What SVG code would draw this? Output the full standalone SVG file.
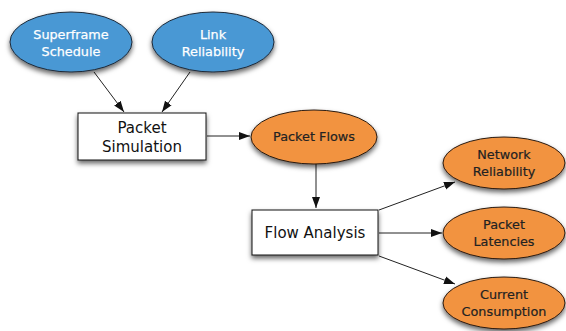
<svg xmlns="http://www.w3.org/2000/svg" width="566" height="331" viewBox="0 0 566 331">
  <defs>
    <filter id="shadow" x="-20%" y="-20%" width="140%" height="160%">
      <feDropShadow dx="0" dy="3" stdDeviation="2.5" flood-color="#000" flood-opacity="0.6"/>
    </filter>
    <marker id="arrow" viewBox="0 0 11 10" refX="11" refY="5" markerWidth="11" markerHeight="10" markerUnits="userSpaceOnUse" orient="auto">
      <path d="M0,1 L11,5 L0,9 z" fill="#111"/>
    </marker>
  </defs>
  <style>
    .blue { fill: #4a98d4; stroke: #1e2a38; stroke-width: 1; }
    .orange { fill: #f29340; stroke: #2a1a10; stroke-width: 1; }
    .box { fill: #fff; stroke: #111; stroke-width: 1; }
    .lbl { font-family: "DejaVu Sans", sans-serif; text-anchor: middle; }
    .white { fill: #fff; font-size: 12.8px; stroke: #fff; stroke-width: 0.25; }
    .dark { fill: #222; font-size: 12.8px; stroke: #222; stroke-width: 0.2; }
    .boxlbl { fill: #111; font-size: 15px; }
    .edge { stroke: #222; stroke-width: 1; fill: none; marker-end: url(#arrow); }
  </style>

  <!-- connectors -->
  <g id="connectors">
    <line class="edge" x1="94" y1="72" x2="124" y2="112"/>
    <line class="edge" x1="190" y1="72" x2="162" y2="112"/>
    <line class="edge" x1="207" y1="136" x2="250" y2="136"/>
    <line class="edge" x1="316" y1="164" x2="316" y2="208"/>
    <line class="edge" x1="379" y1="210" x2="455" y2="182"/>
    <line class="edge" x1="379" y1="233" x2="442" y2="233"/>
    <line class="edge" x1="379" y1="256" x2="455" y2="284"/>
  </g>

  <g id="superframe-schedule">
    <ellipse class="blue" cx="71" cy="42" rx="61" ry="30" filter="url(#shadow)"/>
    <text class="lbl white" x="71" y="39">Superframe</text>
    <text class="lbl white" x="71" y="56">Schedule</text>
  </g>

  <g id="link-reliability">
    <ellipse class="blue" cx="213" cy="42" rx="61" ry="30" filter="url(#shadow)"/>
    <text class="lbl white" x="213" y="39">Link</text>
    <text class="lbl white" x="213" y="56">Reliability</text>
  </g>

  <g id="packet-simulation">
    <rect class="box" x="78" y="113" width="128" height="47" filter="url(#shadow)"/>
    <text class="lbl boxlbl" x="142" y="133">Packet</text>
    <text class="lbl boxlbl" x="142" y="152">Simulation</text>
  </g>

  <g id="packet-flows">
    <ellipse class="orange" cx="314" cy="137" rx="63" ry="27" filter="url(#shadow)"/>
    <text class="lbl dark" x="314" y="141">Packet Flows</text>
  </g>

  <g id="flow-analysis">
    <rect class="box" x="252" y="210" width="126" height="45" filter="url(#shadow)"/>
    <text class="lbl boxlbl" x="315" y="238">Flow Analysis</text>
  </g>

  <g id="network-reliability">
    <ellipse class="orange" cx="504" cy="163" rx="61" ry="26" filter="url(#shadow)"/>
    <text class="lbl dark" x="504" y="159">Network</text>
    <text class="lbl dark" x="504" y="176">Reliability</text>
  </g>

  <g id="packet-latencies">
    <ellipse class="orange" cx="504" cy="233" rx="61" ry="26" filter="url(#shadow)"/>
    <text class="lbl dark" x="504" y="229">Packet</text>
    <text class="lbl dark" x="504" y="246">Latencies</text>
  </g>

  <g id="current-consumption">
    <ellipse class="orange" cx="504" cy="303" rx="61" ry="26" filter="url(#shadow)"/>
    <text class="lbl dark" x="504" y="299">Current</text>
    <text class="lbl dark" x="504" y="316">Consumption</text>
  </g>
</svg>
